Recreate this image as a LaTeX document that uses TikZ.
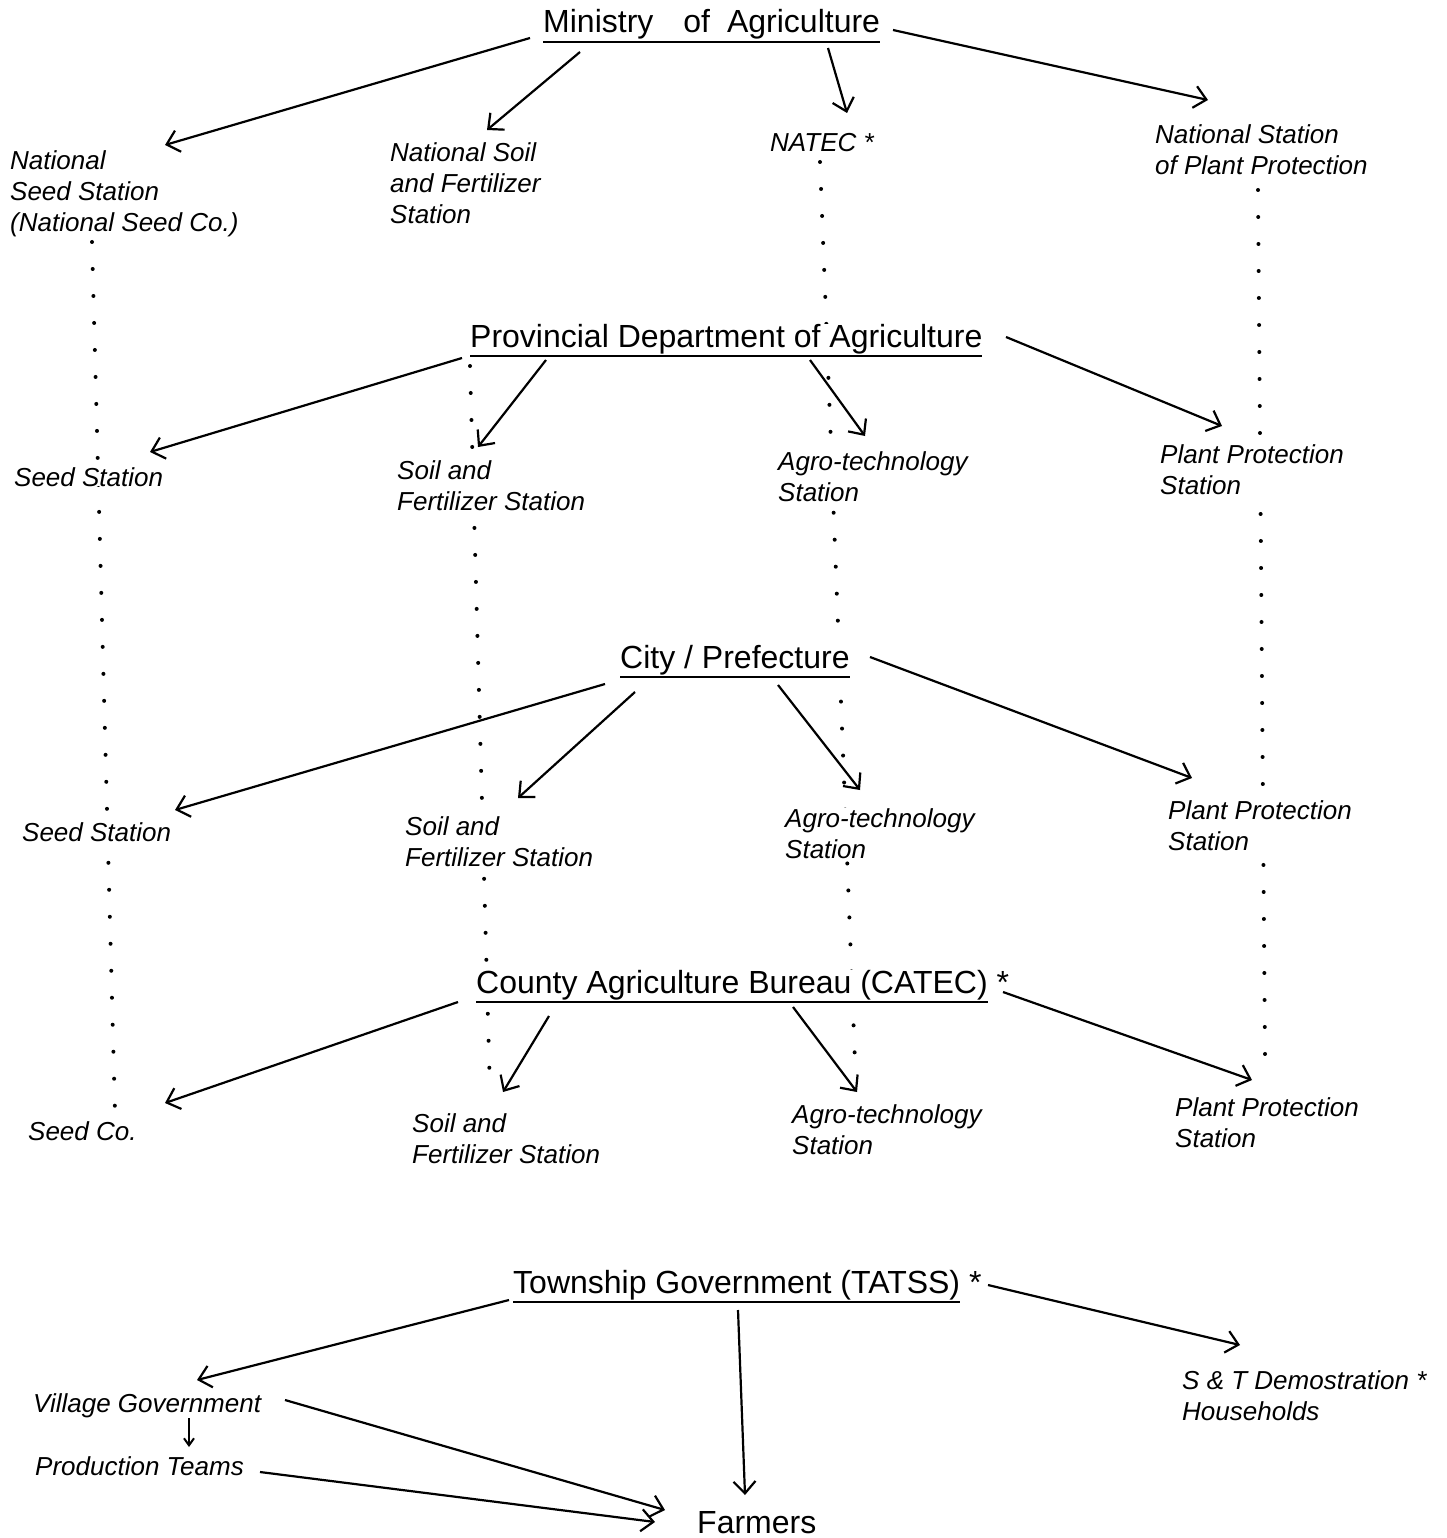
\documentclass[tikz,border=0pt]{standalone}
\usepackage{fontspec}
\setmainfont{Liberation Sans}
\usetikzlibrary{arrows.meta, calc, backgrounds}
\newcommand\hdline[1]{\setbox0\hbox{#1}\rlap{\rule[-10pt]{\wd0}{2.2pt}}\box0\relax}

\begin{document}
\begin{tikzpicture}[
    x=1pt, y=-1pt,
    level/.style={anchor=base west, inner sep=0pt, fill=white, font=\fontsize{32}{38}\selectfont},
    unit/.style={anchor=north west, inner sep=0pt, fill=white, align=left, font=\fontsize{26}{31}\selectfont\itshape},
    arrow/.style={-{Straight Barb[length=12pt, width=22pt]}, line width=2.2pt},
    small arrow/.style={-{Straight Barb[length=7pt, width=10pt]}, line width=2pt},
    dots/.style={line width=4pt, line cap=round, dash pattern=on 0pt off 27pt}
]
    \useasboundingbox (0,0) rectangle (1446,1538);

    \node[level] (min) at (543,33) {\hdline{Ministry\hspace{30pt}of\hspace{17pt}Agriculture}};
    \node[unit] (natseed) at (10,150) {National\\Seed Station\\(National Seed Co.)};
    \node[unit] (natsoil) at (390,142) {National Soil\\and Fertilizer\\Station};
    \node[unit] (natec) at (770,133) {NATEC *};
    \node[unit] (natpp) at (1155,124) {National Station\\of Plant Protection};

    \node[level] (prov) at (470,347) {\hdline{Provincial Department of Agriculture}};
    \node[unit] (seed1) at (14,467) {Seed Station};
    \node[unit] (soil1) at (397,460) {Soil and\\Fertilizer Station};
    \node[unit] (agro1) at (778,451) {Agro-technology\\Station};
    \node[unit] (pp1) at (1160,444) {Plant Protection\\Station};

    \node[level] (city) at (620,668) {\hdline{City / Prefecture}};
    \node[unit] (seed2) at (22,822) {Seed Station};
    \node[unit] (soil2) at (405,816) {Soil and\\Fertilizer Station};
    \node[unit] (agro2) at (785,808) {Agro-technology\\Station};
    \node[unit] (pp2) at (1168,800) {Plant Protection\\Station};

    \node[level] (county) at (476,993) {\hdline{County Agriculture Bureau (CATEC)} *};
    \node[unit] (seedco) at (28,1121) {Seed Co.};
    \node[unit] (soil3) at (412,1113) {Soil and\\Fertilizer Station};
    \node[unit] (agro3) at (792,1104) {Agro-technology\\Station};
    \node[unit] (pp3) at (1175,1097) {Plant Protection\\Station};

    \node[level] (town) at (513,1293) {\hdline{Township Government (TATSS)} *};
    \node[unit] (village) at (33,1393) {Village Government};
    \node[unit] (teams) at (35,1456) {Production Teams};
    \node[unit] (demo) at (1182,1370) {S \& T Demostration *\\Households};
    \node[level] (farmers) at (697,1533) {Farmers};

    \draw[arrow] ($(min.base west)+(-13,5)$) -- ($(natseed.north west)+(155,-5)$);
    \draw[arrow] ($(min.base west)+(37,19)$) -- ($(natsoil.north west)+(97,-12)$);
    \draw[arrow] ($(min.base west)+(285,15)$) -- ($(natec.north west)+(77,-20)$);
    \draw[arrow] ($(min.base west)+(350,-3)$) -- ($(natpp.north west)+(53,-24)$);

    \draw[arrow] ($(prov.base west)+(-8,11)$) -- ($(seed1.north west)+(136,-15)$);
    \draw[arrow] ($(prov.base west)+(76,13)$) -- ($(soil1.north west)+(81,-13)$);
    \draw[arrow] ($(prov.base west)+(340,13)$) -- ($(agro1.north west)+(87,-15)$);
    \draw[arrow] ($(prov.base west)+(536,-10)$) -- ($(pp1.north west)+(62,-18)$);

    \draw[arrow] ($(city.base west)+(-15,16)$) -- ($(seed2.north west)+(153,-12)$);
    \draw[arrow] ($(city.base west)+(15,24)$) -- ($(soil2.north west)+(113,-18)$);
    \draw[arrow] ($(city.base west)+(158,17)$) -- ($(agro2.north west)+(75,-18)$);
    \draw[arrow] ($(city.base west)+(250,-11)$) -- ($(pp2.north west)+(24,-22)$);

    \draw[arrow] ($(county.base west)+(-18,9)$) -- ($(seedco.north west)+(137,-18)$);
    \draw[arrow] ($(county.base west)+(73,23)$) -- ($(soil3.north west)+(91,-21)$);
    \draw[arrow] ($(county.base west)+(317,14)$) -- ($(agro3.north west)+(65,-12)$);
    \draw[arrow] ($(county.base west)+(527,-1)$) -- ($(pp3.north west)+(77,-17)$);

    \draw[arrow] ($(town.base west)+(-4,7)$) -- ($(village.north west)+(164,-13)$);
    \draw[arrow] ($(town.base west)+(225,17)$) -- ($(farmers.base west)+(48,-38)$);
    \draw[arrow] ($(town.base west)+(475,-8)$) -- ($(demo.north west)+(58,-25)$);
    \draw[small arrow] ($(village.north west)+(156,25)$) -- ($(teams.north west)+(154,-9)$);
    \draw[arrow] ($(village.north west)+(252,7)$) -- ($(farmers.base west)+(-32,-23)$);
    \draw[arrow] ($(teams.north west)+(225,16)$) -- ($(farmers.base west)+(-42,-11)$);

    \begin{scope}[on background layer]
        \draw[dots] ($(natseed.north west)+(82,92)$) -- ($(seedco.north west)+(87,-9)$);
        \draw[dots] ($(prov.base west)+(0,19)$) -- ($(soil3.north west)+(78,-20)$);
        \draw[dots] ($(natec.north west)+(50,29)$) -- ($(agro3.north west)+(63,-42)$);
        \draw[dots] ($(natpp.north west)+(103,66)$) -- ($(pp3.north west)+(90,-42)$);
    \end{scope}
\end{tikzpicture}
\end{document}
